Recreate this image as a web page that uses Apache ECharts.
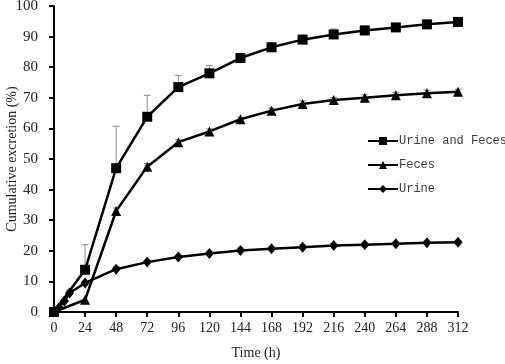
<!DOCTYPE html>
<html lang="en">
<head>
    <meta charset="UTF-8">
    <title>Cumulative excretion</title>
    <style>
        body { margin: 0; background: #fff; }
        #chart { width: 505px; height: 364px; }
    </style>
    <script src="https://cdn.jsdelivr.net/npm/echarts/dist/echarts.min.js"></script>
</head>
<body>
<div id="chart"></div>
<script>
    // Time points (h)
    var timeMain = [0, 24, 48, 72, 96, 120, 144, 168, 192, 216, 240, 264, 288, 312];
    var timeUrine = [0, 4, 8, 12, 24, 48, 72, 96, 120, 144, 168, 192, 216, 240, 264, 288, 312];

    // Mean cumulative excretion (%)
    var totalMean = [0, 13.8, 47, 63.8, 73.5, 78, 83, 86.5, 89, 90.7, 92, 93, 94, 94.8];
    var fecesMean = [0, 4, 33, 47.5, 55.5, 59, 63, 65.8, 68, 69.3, 70, 70.8, 71.5, 72];
    var urineMean = [0, 1.5, 3.6, 6.2, 9.5, 14, 16.3, 18, 19.1, 20.1, 20.7, 21.2, 21.7, 22, 22.3, 22.6, 22.8];

    // SD (upper error bars only)
    var totalSd = [0, 8.2, 13.7, 7, 3.8, 2.5, 1.5, 1.5, 1.5, 1.8, 1.5, 1.2, 1, 1];
    var fecesSd = [0, 0.3, 1, 1, 0.8, 0.8, 0.6, 0.8, 1, 0.8, 1, 1, 1, 0.8];
    var urineSd = [0, 0.3, 0.5, 1, 0.5, 0.8, 0.6, 0.5, 0.8, 0.8, 0.6, 0.8, 0.6, 0.6, 0.6, 0.6, 0.5];

    var xTicks = { min: 0, max: 312, interval: 24 };

    function pairs(xs, ys) {
        return xs.map(function (x, i) { return [x, ys[i]]; });
    }

    function errorSeries(xs, means, sds) {
        return {
            type: 'custom',
            silent: true,
            z: 1,
            data: xs.map(function (x, i) { return [x, means[i], means[i] + sds[i]]; }),
            renderItem: function (params, api) {
                var lo = api.coord([api.value(0), api.value(1)]);
                var hi = api.coord([api.value(0), api.value(2)]);
                if (lo[1] - hi[1] < 1) return;
                var style = { stroke: '#8c8c8c', lineWidth: 1 };
                return {
                    type: 'group',
                    children: [
                        { type: 'line', shape: { x1: lo[0], y1: lo[1], x2: hi[0], y2: hi[1] }, style: style },
                        { type: 'line', shape: { x1: hi[0] - 3.5, y1: hi[1], x2: hi[0] + 3.5, y2: hi[1] }, style: style }
                    ]
                };
            }
        };
    }

    function lineSeries(name, xs, ys, symbol, size) {
        return {
            name: name,
            type: 'line',
            data: pairs(xs, ys),
            symbol: symbol,
            symbolSize: size,
            z: 3,
            lineStyle: { color: '#000', width: 2.5 },
            itemStyle: { color: '#000' }
        };
    }

    var chart = echarts.init(document.getElementById('chart'));
    chart.setOption({
        animation: false,
        textStyle: { fontFamily: 'Liberation Serif' },
        grid: { left: 54, right: 47, top: 6, bottom: 52, outerBoundsMode: 'none', containLabel: false },
        legend: {
            orient: 'vertical',
            left: 362,
            top: 130,
            itemWidth: 30,
            itemHeight: 10,
            itemGap: 12,
            textStyle: { fontFamily: 'Liberation Mono', fontSize: 12, color: '#3a3a3a', padding: [0, 0, 0, -4] },
            data: ['Urine and Feces', 'Feces', 'Urine']
        },
        xAxis: {
            type: 'value',
            min: xTicks.min,
            max: xTicks.max,
            interval: xTicks.interval,
            name: 'Time (h)',
            nameLocation: 'middle',
            nameGap: 34,
            nameTextStyle: { fontSize: 14, color: '#222', fontFamily: 'Liberation Serif' },
            axisLine: { onZero: false, lineStyle: { color: '#000', width: 2 } },
            axisTick: { inside: false, length: 5, lineStyle: { color: '#000', width: 2 } },
            axisLabel: { fontSize: 14, color: '#222', margin: 9, fontFamily: 'Liberation Serif' },
            splitLine: { show: false }
        },
        yAxis: {
            type: 'value',
            min: 0,
            max: 100,
            interval: 10,
            name: 'Cumulative excretion (%)',
            nameLocation: 'middle',
            nameGap: 35,
            nameMoveOverlap: false,
            nameTextStyle: { fontSize: 14, color: '#222', fontFamily: 'Liberation Serif' },
            axisLine: { show: true, lineStyle: { color: '#000', width: 2 } },
            axisTick: { show: true, length: 5, lineStyle: { color: '#000', width: 2 } },
            axisLabel: { fontSize: 15, color: '#222', margin: 16, fontFamily: 'Liberation Serif' },
            splitLine: { show: false }
        },
        series: [
            errorSeries(timeMain, totalMean, totalSd),
            errorSeries(timeMain, fecesMean, fecesSd),
            errorSeries(timeUrine, urineMean, urineSd),
            lineSeries('Urine and Feces', timeMain, totalMean, 'rect', 10),
            lineSeries('Feces', timeMain, fecesMean, 'triangle', 10),
            lineSeries('Urine', timeUrine, urineMean, 'diamond', [9, 11])
        ]
    });
</script>
</body>
</html>
